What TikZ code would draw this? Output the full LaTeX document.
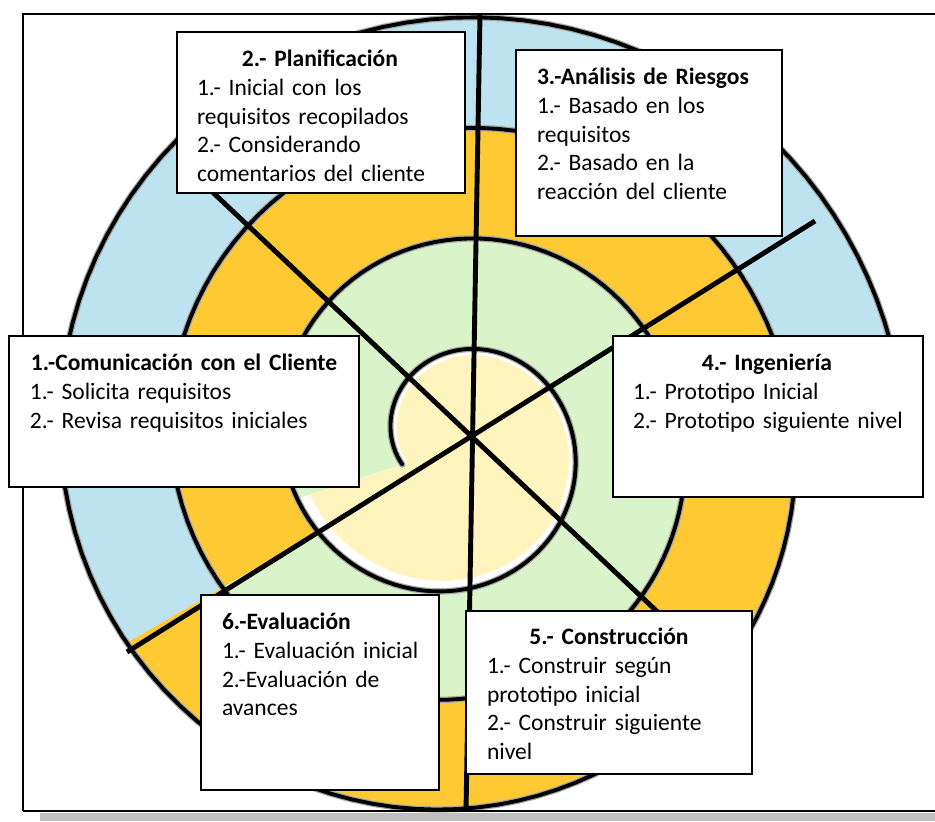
\documentclass[tikz,border=0pt]{standalone}
\usepackage{fontspec}
\setmainfont{Carlito}
\usetikzlibrary{calc}
\definecolor{cblue}{HTML}{BDE3F0}
\definecolor{corange}{HTML}{FFC933}
\definecolor{cgreen}{HTML}{D9F4C9}
\definecolor{cyellow}{HTML}{FFF3BE}
\definecolor{cshadow}{HTML}{BFBFBF}
\newcommand\mytstrut{\rule{0pt}{12.5pt}}
\begin{document}
\begin{tikzpicture}[x=0.02cm,y=-0.02cm,
  declare function={sr(\t)=8+17.6*(\t/57.29578-1.3*cos(\t));
                    sx(\t)=478+sr(\t)*cos(\t);
                    sy(\t)=440+sr(\t)*sin(\t);},
  spiral/.style={line width=2.2pt, black, line join=round, line cap=round},
  spiralhalo/.style={line width=3.6pt, black!35, line join=round, line cap=round},
  axisline/.style={line width=2.8pt, black},
  box/.style={draw=black, line width=1pt, fill=white, rectangle, inner sep=0pt, outer sep=0pt, anchor=north west},
  txt/.style={anchor=north west, inner sep=0pt, outer sep=0pt, font=\fontsize{13.4}{16.3}\selectfont, execute at begin node={\setlength{\parindent}{0pt}}},
]
\useasboundingbox (0,0) rectangle (935,821);
\clip (0,0) rectangle (935,821);

% coloured bands of the spiral
\fill[cblue] plot[domain=870:1083,samples=80] ({sx(\x)},{sy(\x)}) -- plot[domain=1443:1230,samples=80] ({sx(\x)},{sy(\x)}) -- cycle;
\fill[corange] plot[domain=510:870,samples=100] ({sx(\x)},{sy(\x)}) -- plot[domain=1230:870,samples=100] ({sx(\x)},{sy(\x)}) -- cycle;
\fill[cgreen] plot[domain=162:510,samples=100] ({sx(\x)},{sy(\x)}) -- plot[domain=870:522,samples=100] ({sx(\x)},{sy(\x)}) -- cycle;
\fill[white] plot[domain=162:522,samples=100] ({sx(\x)},{sy(\x)}) -- cycle;
\fill[cyellow] plot[domain=162:522,samples=100] ({478+0.93*sr(\x)*cos(\x)},{440+0.93*sr(\x)*sin(\x)}) -- cycle;

% spiral line
\draw[spiralhalo] plot[domain=162:1443,samples=400] ({sx(\x)},{sy(\x)});
\draw[spiral] plot[domain=162:1443,samples=400] ({sx(\x)},{sy(\x)});

% frame
\fill[cshadow] (40,813) rectangle (940,821);
\draw[line width=1pt] (23,811) -- (23,14) -- (940,14);
\draw[line width=1.6pt] (23,811) -- (940,811);

% axes
\coordinate (a1) at (480,14);
\coordinate (a2) at (466,811);
\coordinate (d1) at (205,185);
\coordinate (d2) at (665,619);
\coordinate (e1) at (815,221);
\coordinate (e2) at (127,652);
\draw[axisline] (a1) -- (a2);
\draw[axisline] (d1) -- (d2);
\draw[axisline] (e1) -- (e2);

% boxes
\node[box, minimum width=7cm, minimum height=3.02cm] (b1) at (9,336) {};
\node[box, minimum width=5.76cm, minimum height=3.22cm] (b2) at (177,32) {};
\node[box, minimum width=5.32cm, minimum height=3.72cm] (b3) at (516,50) {};
\node[box, minimum width=6.2cm, minimum height=3.22cm] (b4) at (613,336) {};
\node[box, minimum width=5.72cm, minimum height=3.26cm] (b5) at (466,611) {};
\node[box, minimum width=4.76cm, minimum height=3.9cm] (b6) at (201,595) {};

\node[txt, text width=6.16cm] (t1) at ($(b1.north west)+(21,13)$) {%
{\centering\bfseries\mytstrut 1.-Comunicación con el Cliente\par}
\mbox{1.- Solicita requisitos}\par
\mbox{2.- Revisa requisitos iniciales}\par};

\node[txt, text width=4.92cm] (t2) at ($(b2.north west)+(20,13)$) {%
{\centering\bfseries\mytstrut 2.- Planificación\par}
\mbox{1.- Inicial con los}\par
\mbox{requisitos recopilados}\par
\mbox{2.- Considerando}\par
\mbox{comentarios del cliente}\par};

\node[txt, text width=4.48cm] (t3) at ($(b3.north west)+(21,13)$) {%
{\bfseries\mytstrut 3.-Análisis de Riesgos\par}
\mbox{1.- Basado en los}\par
\mbox{requisitos}\par
\mbox{2.- Basado en la}\par
\mbox{reacción del cliente}\par};

\node[txt, text width=5.36cm] (t4) at ($(b4.north west)+(20,13)$) {%
{\centering\bfseries\mytstrut 4.- Ingeniería\par}
\mbox{1.- Prototipo Inicial}\par
\mbox{2.- Prototipo siguiente nivel}\par};

\node[txt, text width=4.88cm] (t5) at ($(b5.north west)+(21,12)$) {%
{\centering\bfseries\mytstrut 5.- Construcción\par}
\mbox{1.- Construir según}\par
\mbox{prototipo inicial}\par
\mbox{2.- Construir siguiente}\par
\mbox{nivel}\par};

\node[txt, text width=3.92cm] (t6) at ($(b6.north west)+(21,13)$) {%
{\bfseries\mytstrut 6.-Evaluación\par}
\mbox{1.- Evaluación inicial}\par
\mbox{2.-Evaluación de}\par
\mbox{avances}\par};
\end{tikzpicture}
\end{document}
